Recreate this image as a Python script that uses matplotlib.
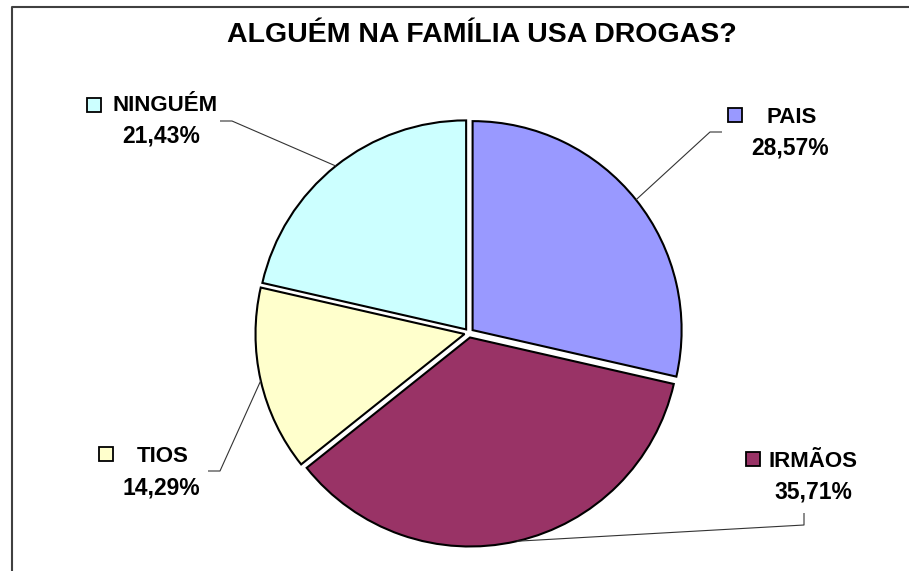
import matplotlib
matplotlib.use('Agg')
import matplotlib.pyplot as plt
from matplotlib.patches import Rectangle
import numpy as np

# ---- data ----
categories = ['PAIS', 'IRMÃOS', 'TIOS', 'NINGUÉM']
values = [28.57, 35.71, 14.29, 21.43]
pct_labels = ['28,57%', '35,71%', '14,29%', '21,43%']
colors = ['#9999FF', '#993366', '#FFFFCC', '#CCFFFF']
title = 'ALGUÉM NA FAMÍLIA USA DROGAS?'

# ---- layout (pixel coordinates, image y downward) ----
W, H = 909, 571
FONT = 'Liberation Sans'
cx_img, cy_img, R = 469, 333, 209
explode_px = 4.6

# leader elbow / end points, legend-key square top-left, name pos, pct pos
leaders = {
    'PAIS': [(710, 132), (722, 132)],
    'IRMÃOS': [(804, 525), (804, 513)],
    'TIOS': [(220, 471), (208, 471)],
    'NINGUÉM': [(232, 121), (220, 121)],
}
squares = {'PAIS': (728, 108), 'IRMÃOS': (746, 452), 'TIOS': (99, 447), 'NINGUÉM': (87, 98)}
name_pos = {'PAIS': (766, 123), 'IRMÃOS': (768, 467), 'TIOS': (137, 462), 'NINGUÉM': (112, 111)}
pct_pos = {'PAIS': (751, 154), 'IRMÃOS': (774, 499), 'TIOS': (123, 494), 'NINGUÉM': (122, 143)}

fig = plt.figure(figsize=(W / 100, H / 100), dpi=100)
ax = fig.add_axes([0, 0, 1, 1])

wedges, _ = ax.pie(values, colors=colors, startangle=90, counterclock=False,
                   center=(cx_img, H - cy_img), radius=R,
                   explode=[explode_px] * len(values),
                   wedgeprops=dict(edgecolor='black', linewidth=1.5))

ax.set_xlim(0, W)
ax.set_ylim(0, H)
ax.set_aspect('equal', adjustable='box')
ax.axis('off')

for w, cat, pct, col in zip(wedges, categories, pct_labels, colors):
    tm = np.deg2rad(0.5 * (w.theta1 + w.theta2))
    px = w.center[0] + w.r * np.cos(tm)
    py = w.center[1] + w.r * np.sin(tm)
    pts = [(px, py)] + [(x, H - y) for x, y in leaders[cat]]
    xs, ys = zip(*pts)
    ax.plot(xs, ys, color='#333333', lw=0.8, solid_capstyle='butt', zorder=1)

    sx, sy = squares[cat]
    ax.add_patch(Rectangle((sx, H - sy - 14), 14, 14, facecolor=col,
                           edgecolor='black', lw=1.3, zorder=3))
    nx, ny = name_pos[cat]
    ax.text(nx, H - ny, cat, ha='left', va='baseline', fontsize=16,
            fontweight='bold', family=FONT)
    qx, qy = pct_pos[cat]
    ax.text(qx, H - qy, pct, ha='left', va='baseline', fontsize=16.5,
            fontweight='bold', family=FONT)

# title
ax.text(482, H - 42, title, ha='center', va='baseline', fontsize=20.5,
        fontweight='bold', family=FONT)

# chart frame (left and top)
ax.plot([11.5, 11.5, W], [0, H - 6.5, H - 6.5], color='#404040', lw=1.5,
        solid_capstyle='butt', clip_on=False)

fig.savefig('out.png', dpi=100)
